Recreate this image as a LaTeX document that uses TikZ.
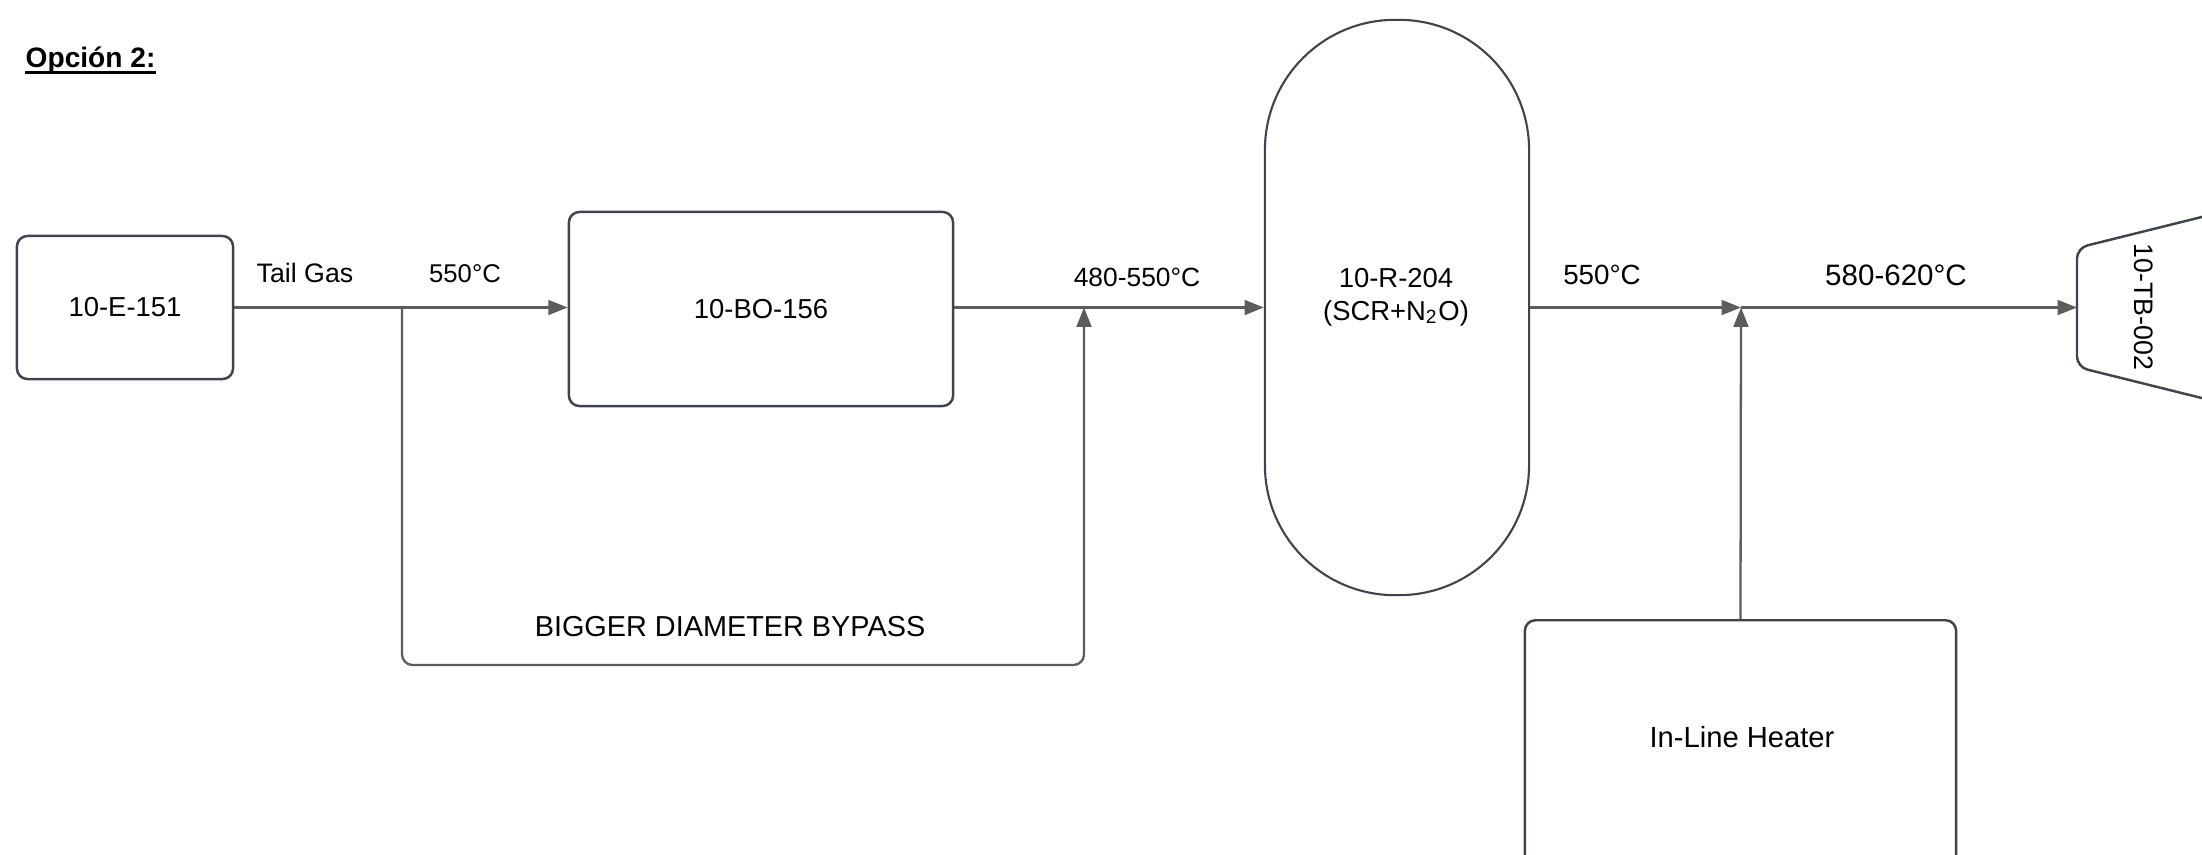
\documentclass[tikz,border=0pt]{standalone}
\usepackage{fontspec}
\setmainfont{Liberation Sans}
\usetikzlibrary{arrows.meta,positioning}

\definecolor{edgegray}{RGB}{64,68,76}
\definecolor{flowgray}{RGB}{92,92,92}

\tikzset{
	unit/.style={draw=edgegray, line width=0.7pt, rounded corners=3pt, inner sep=0pt, font=\fontsize{7.8}{9.4}\selectfont},
	flow/.style={draw=flowgray, line width=0.65pt, -{Triangle[length=5.5pt,width=4.2pt]}},
	tag/.style={font=\fontsize{7.6}{9.4}\selectfont, inner sep=0pt, anchor=base},
}

\begin{document}
\begin{tikzpicture}[x=0.01cm,y=-0.01cm]
		\useasboundingbox (0,0) rectangle (2202,854);
		\clip (0,0) rectangle (2202,854);
		
		% title
		\node[anchor=base west, inner sep=0pt, font=\bfseries\fontsize{8}{10}\selectfont] (title) at (25,67) {Opción 2:};
		\draw[line width=0.8pt] ([yshift=-1.6pt]title.base west) -- ([yshift=-1.6pt]title.base east);
		
		% equipment
		\node[unit, minimum width=2.16cm, minimum height=1.43cm] (e151) at (125,307.5) {10-E-151};
		\node[unit, minimum width=3.84cm, minimum height=1.94cm] (bo156) at (761,309) {10-BO-156};
		\node[draw=edgegray, line width=0.6pt, rounded corners=1.3cm, minimum width=2.64cm, minimum height=5.75cm, inner sep=0pt] (r204) at (1397,307.5) {};
		\node[align=center, inner sep=0pt, font=\fontsize{7.8}{9.4}\selectfont] (r204txt) at (1396,297) {10-R-204\\(SCR+N\textsubscript{2}O)};
		% heater runs off the bottom of the page
		\node[unit, anchor=north, minimum width=4.31cm, minimum height=2.70cm] (heater) at (1740.5,619) {};
		\node[font=\fontsize{8.3}{10}\selectfont, inner sep=0pt] (heatertxt) at (1742,737) {In-Line Heater};
		
		% turbine (cut by the page edge)
		\draw[draw=edgegray, line width=0.7pt, rounded corners=3pt] (2270,200) -- (2077,248) -- (2077,367) -- (2270,415);
		\node[inner sep=0pt, rotate=-90, font=\fontsize{7.6}{9.4}\selectfont] (tb002) at (2144,307) {10-TB-002};
		
		% pipe points
		\coordinate (tee) at (402,307.5);
		\coordinate (mixA) at (1084,307.5);
		\coordinate (mixB) at (1741,307.5);
		\coordinate (tbin) at (2077,307.5);
		\coordinate (bpL) at (402,665);
		\coordinate (bpR) at (1084,665);
		
		% flows
		\draw[flow] (e151.east) -- (e151.east -| bo156.west);
		\draw[flow] (bo156.east |- mixA) -- (r204.west);
		\draw[flow, rounded corners=3pt] (tee) -- (bpL) -- (bpR) -- (mixA);
		\draw[flow] (r204.east) -- (mixB);
		\draw[flow] (mixB) -- (tbin);
		\draw[flow] (heater.north) -- (mixB);
		
		% stream labels
		\node[tag] (tailgas) at (305,282) {Tail Gas};
		\node[tag, font=\fontsize{7.3}{9}\selectfont] (t550a) at (465,282) {550°C};
		\node[tag, font=\fontsize{7.5}{9}\selectfont] (t480) at (1137,286) {480-550°C};
		\node[tag, font=\fontsize{7.9}{9}\selectfont] (t550b) at (1602,284) {550°C};
		\node[tag, font=\fontsize{8.4}{10}\selectfont] (t580) at (1896,285) {580-620°C};
		\node[tag, font=\fontsize{8.2}{10}\selectfont] (bypass) at (730,636) {BIGGER DIAMETER BYPASS};
	\end{tikzpicture}
\end{document}
